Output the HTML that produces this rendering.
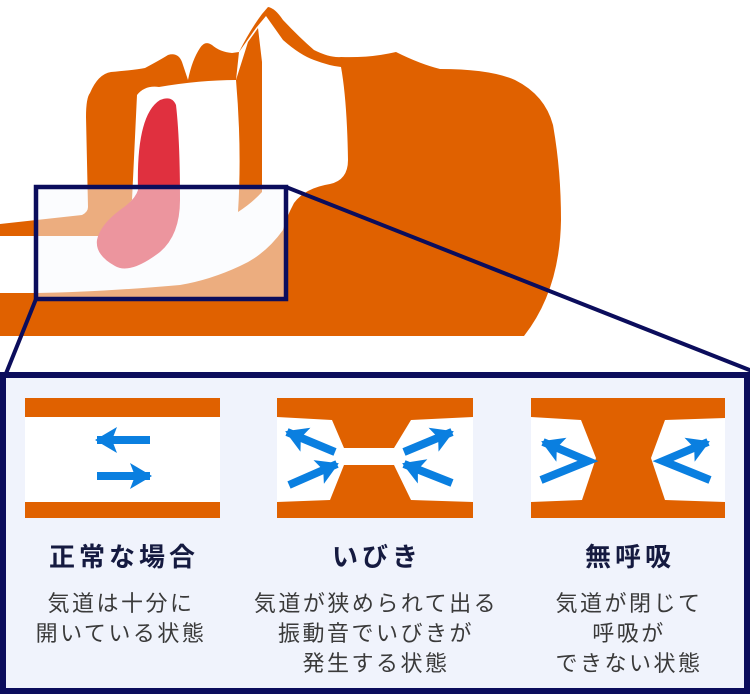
<!DOCTYPE html>
<html><head><meta charset="utf-8"><style>
html,body{margin:0;padding:0;background:#fff;}
svg{display:block;}
.t{font-family:"Liberation Sans","Noto Sans CJK JP",sans-serif;font-weight:bold;font-size:26px;fill:#151a40;letter-spacing:4px;}
.d{font-family:"Liberation Sans","Noto Sans CJK JP",sans-serif;font-size:22px;fill:#3a3a3a;letter-spacing:2.5px;}
</style></head><body>
<svg width="750" height="694" viewBox="0 0 750 694" xmlns="http://www.w3.org/2000/svg">
<defs>
<marker id="a" markerWidth="22" markerHeight="26" refX="20" refY="13" orient="auto" markerUnits="userSpaceOnUse"><path d="M0,0 L22,13 L0,26 L5,13 Z" fill="#0a7fe0"/></marker>
</defs>
<path fill="#e06100" d="M0,224 L82,215 Q88,212 88,207 L86,117 Q86,98 90,93 Q98,74 111,72 Q135,70 145,68 Q160,60 168,55 Q178,52 182,62 L188,80 Q192,60 200,48 Q205,40 212,45 Q220,52 232,53 L239,52 Q250,30 262,14 L268,7 Q275,8 283,20 Q300,38 314,50 Q330,58 341,57 Q370,58 396,52 Q420,64 440,69 Q490,69 515,80 Q545,95 553,125 Q561,170 561,220 Q560,290 524,336 L0,336 Z"/>
<path fill="#fff" d="M0,236 L100,236 L132,200 L137,95 Q145,85 159,87 Q200,80 236,80 L239,52 L256,28 L266,16 L283,40 Q300,55 314,60 Q330,66 341,67 Q347,100 348,160 Q348,180 330,184 Q305,188 294,203 Q286,218 283,230 Q265,255 240,266 Q210,280 180,285 Q100,292 37,293 L0,293 Z"/>
<path fill="#e06100" d="M236,80 Q242,150 238,212 Q252,203 262,192 L262,62 L258,28 L248,42 Z"/>
<path fill="#e0303f" d="M138,190 Q136,115 160,100 Q172,95 176,105 Q180,140 180,200 Q180,235 160,252 Q130,275 115,266 Q95,255 97,240 Q100,225 120,210 Q135,200 138,190 Z"/>
<rect x="36" y="187" width="250" height="112" fill="#f8f9fe" fill-opacity="0.5" stroke="#0b0d5c" stroke-width="4.5"/>
<line x1="286" y1="187" x2="752" y2="371" stroke="#0b0d5c" stroke-width="4"/>
<line x1="36" y1="299" x2="5" y2="376" stroke="#0b0d5c" stroke-width="4"/>
<rect x="3" y="375" width="744" height="316" fill="#f0f3fc" stroke="#0b0d5c" stroke-width="6"/>
<rect x="25" y="398" width="195" height="120" fill="#fff"/>
<rect x="25" y="398" width="195" height="19" fill="#e06100"/>
<rect x="25" y="502" width="195" height="16" fill="#e06100"/>
<line x1="150" y1="440" x2="97" y2="440" stroke="#0a7fe0" stroke-width="8" marker-end="url(#a)"/>
<line x1="97" y1="476" x2="150" y2="476" stroke="#0a7fe0" stroke-width="8" marker-end="url(#a)"/>
<rect x="277" y="398" width="196" height="120" fill="#fff"/>
<path fill="#e06100" d="M277,398 L473,398 L473,417 L411,420 L394,448 L344,448 L332,420 L277,417 Z"/>
<path fill="#e06100" d="M277,502 L330,500 L344,465 L394,465 L411,500 L473,502 L473,518 L277,518 Z"/>
<line x1="335" y1="452" x2="287" y2="432" stroke="#0a7fe0" stroke-width="8" marker-end="url(#a)"/>
<line x1="289" y1="485" x2="337" y2="464" stroke="#0a7fe0" stroke-width="8" marker-end="url(#a)"/>
<line x1="404" y1="452" x2="452" y2="432" stroke="#0a7fe0" stroke-width="8" marker-end="url(#a)"/>
<line x1="452" y1="483" x2="404" y2="464" stroke="#0a7fe0" stroke-width="8" marker-end="url(#a)"/>
<rect x="531" y="398" width="194" height="120" fill="#fff"/>
<path fill="#e06100" d="M531,398 L725,398 L725,418 L665,420 L651,458 L665,500 L725,502 L725,518 L531,518 L531,502 L582,500 L596,458 L581,420 L531,417 Z"/>
<polyline points="541,480 588,461 543,442" fill="none" stroke="#0a7fe0" stroke-width="8" stroke-linejoin="miter" marker-end="url(#a)"/>
<polyline points="710,480 663,461 708,442" fill="none" stroke="#0a7fe0" stroke-width="8" stroke-linejoin="miter" marker-end="url(#a)"/>
<text class="t" x="124" y="566" text-anchor="middle">正常な場合</text>
<text class="t" x="377" y="566" text-anchor="middle">いびき</text>
<text class="t" x="630" y="566" text-anchor="middle">無呼吸</text>
<text class="d" x="121" y="611" text-anchor="middle">気道は十分に</text>
<text class="d" x="121" y="641" text-anchor="middle">開いている状態</text>
<text class="d" x="376" y="611" text-anchor="middle">気道が狭められて出る</text>
<text class="d" x="376" y="641" text-anchor="middle">振動音でいびきが</text>
<text class="d" x="376" y="671" text-anchor="middle">発生する状態</text>
<text class="d" x="629" y="611" text-anchor="middle">気道が閉じて</text>
<text class="d" x="629" y="641" text-anchor="middle">呼吸が</text>
<text class="d" x="629" y="671" text-anchor="middle">できない状態</text>
</svg>
</body></html>
